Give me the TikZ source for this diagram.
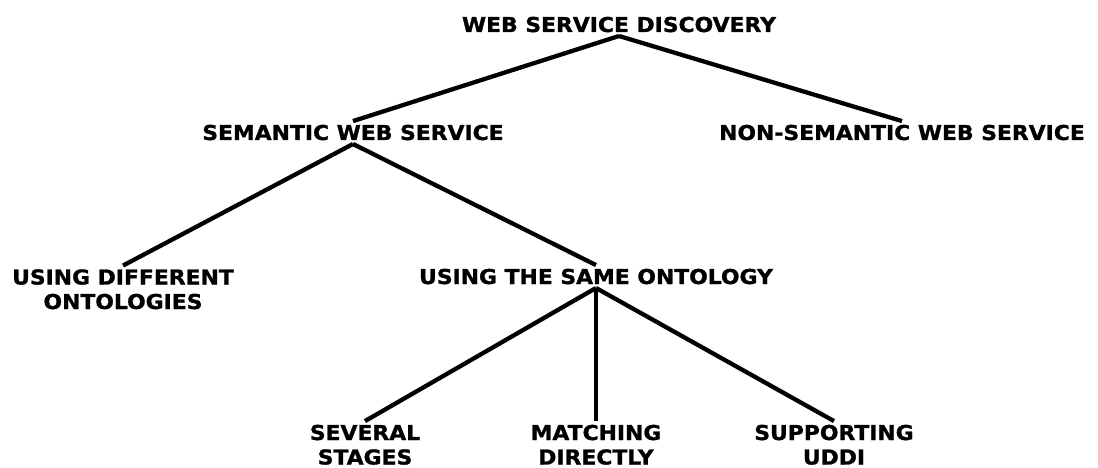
\documentclass[tikz,border=0pt]{standalone}
\usepackage{fontspec}
\setmainfont{DejaVu Sans}[FakeStretch=1.067, BoldFeatures={FakeBold=1.2}]
\begin{document}
\begin{tikzpicture}[x=1pt,y=-1pt,
  lbl/.style={font=\bfseries\fontsize{20.5}{24.5}\selectfont, align=center,
    inner xsep=0pt, inner ysep=3.5pt, anchor=base, text=black},
  edge/.style={line width=4.3pt, line cap=butt}]
\useasboundingbox (0,0) rectangle (1098,468);
% tree labels, placed by their (last-line) baselines
\node[lbl] (root)   at (619,32)  {WEB SERVICE DISCOVERY};
\node[lbl] (sem)    at (353,140) {SEMANTIC WEB SERVICE};
\node[lbl] (nonsem) at (902,140) {NON-SEMANTIC WEB SERVICE};
\node[lbl] (diff)   at (123,309) {USING DIFFERENT\\ONTOLOGIES};
\node[lbl] (same)   at (596,284) {USING THE SAME ONTOLOGY};
\node[lbl] (sev)    at (365,464.5) {SEVERAL\\STAGES};
\node[lbl] (match)  at (596,464.5) {MATCHING\\DIRECTLY};
\node[lbl] (supp)   at (834,464.5) {SUPPORTING\\UDDI};
% branches
\draw[edge] (root.south) -- (sem.north);
\draw[edge] (root.south) -- (nonsem.north);
\draw[edge] (sem.south) -- (diff.north);
\draw[edge] (sem.south) -- (same.north);
\draw[edge] (same.south) -- (sev.north);
\draw[edge] (same.south) -- (match.north);
\draw[edge] (same.south) -- (supp.north);
\end{tikzpicture}
\end{document}
